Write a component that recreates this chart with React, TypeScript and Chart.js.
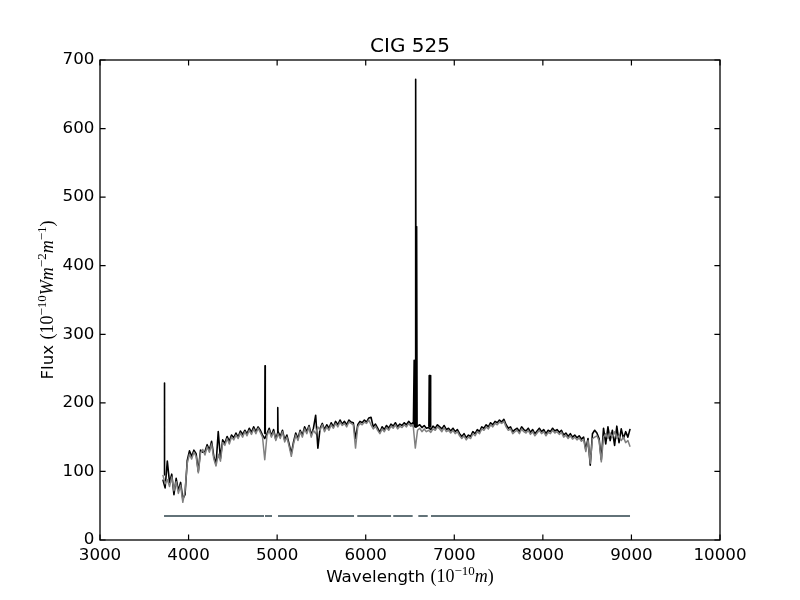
import { useEffect, useRef } from "react";
import { Chart, registerables } from "chart.js";

Chart.register(...registerables);

// both spectra share one wavelength grid (Angstrom)
const waveStart = 3710;
const waveStep = 25;

// synthetic model spectrum (grey), 10 values per 250 A
const modelFlux = [
  95, 82, 88, 78, 92, 72, 85, 68, 80, 55,
  72, 112, 125, 118, 128, 122, 98, 127, 132, 124,
  136, 128, 140, 118, 108, 125, 115, 142, 138, 148,
  140, 150, 146, 153, 148, 156, 150, 158, 152, 160,
  154, 162, 155, 163, 157, 150, 117, 152, 160, 150,
  158, 145, 155, 148, 158, 143, 150, 137, 122, 140,
  153, 145, 158, 150, 162, 155, 165, 150, 160, 155,
  165, 160, 168, 158, 165, 160, 168, 163, 170, 165,
  172, 167, 170, 165, 172, 170, 168, 134, 165, 170,
  168, 172, 170, 175, 168, 162, 166, 160, 155, 162,
  158, 164, 160, 166, 163, 168, 162, 166, 164, 168,
  165, 170, 166, 168, 134, 160, 163, 158, 162, 158,
  160, 157, 162, 160, 165, 162, 158, 164, 158, 160,
  156, 160, 155, 158, 152, 148, 152, 146, 150, 148,
  155, 152, 158, 155, 162, 160, 165, 162, 168, 165,
  170, 168, 172, 170, 173, 165, 160, 162, 155, 158,
  160, 155, 162, 158, 156, 160, 154, 158, 152, 156,
  160, 155, 158, 152, 157, 155, 160, 156, 158, 154,
  157, 150, 153, 148, 152, 147, 150, 146, 149, 144,
  147, 129, 145, 112, 148, 150, 152, 145, 114, 150,
  155, 148, 156, 150, 158, 148, 152, 145, 150, 142,
  145, 136,
];

// observed spectrum continuum (black)
const obsFlux = [
  88, 76, 115, 84, 96, 66, 90, 72, 84, 60,
  66, 116, 130, 122, 131, 126, 100, 131, 128, 129,
  139, 131, 144, 122, 110, 158, 119, 146, 141, 151,
  144, 153, 149, 156, 150, 159, 154, 160, 155, 163,
  157, 165, 158, 165, 160, 153, 148, 155, 163, 152,
  161, 147, 158, 151, 160, 146, 153, 140, 126, 143,
  156, 148, 160, 153, 165, 158, 167, 153, 163, 182,
  134, 163, 170, 161, 168, 163, 171, 165, 173, 168,
  175, 169, 173, 168, 175, 172, 171, 148, 168, 173,
  171, 175, 172, 178, 179, 165, 169, 163, 157, 165,
  161, 167, 163, 169, 166, 171, 165, 169, 167, 171,
  168, 173, 169, 171, 165, 166, 168, 164, 167, 163,
  164, 161, 166, 163, 168, 165, 162, 167, 161, 163,
  159, 163, 158, 161, 155, 151, 155, 149, 153, 151,
  158, 155, 161, 158, 165, 163, 168, 165, 171, 168,
  173, 171, 175, 172, 176, 168, 163, 165, 158, 161,
  163, 158, 165, 161, 159, 163, 157, 161, 155, 159,
  163, 158, 161, 155, 160, 158, 163, 159, 161, 157,
  160, 153, 156, 151, 155, 150, 153, 149, 152, 147,
  150, 132, 148, 109, 155, 160, 156, 148, 117, 163,
  140, 165, 145, 160, 138, 166, 142, 162, 148, 158,
  150, 162,
];

// emission lines of the observed spectrum
// [OII] 3727, Hb, [OIII] 5007, [NII] 6548, Ha, [NII] 6583, [SII] 6717, [SII] 6731
const lineCenter = [3727, 4863, 5007, 6547, 6564, 6575, 6717, 6731];
const linePeak = [229, 254, 193, 262, 672, 457, 240, 240];
const lineBase = [95, 155, 155, 165, 165, 165, 165, 165];
const lineHalfWidth = [3, 3, 3, 9, 5, 5, 4, 4];

// masked wavelength ranges
const maskStart = [3723, 4863, 5010, 5905, 6311, 6594, 6737];
const maskEnd = [4852, 4942, 5868, 6286, 6530, 6700, 8984];
const maskFlux = 35;

const xMin = 3000;
const xMax = 10000;
const xStep = 1000;
const yMin = 0;
const yMax = 700;
const yStep = 100;

const SANS = '"DejaVu Sans"';
const SERIF = '"Liberation Serif"';

type Run = { text: string; font: string; rise?: number };

const drawRuns = (ctx: CanvasRenderingContext2D, runs: Run[], cx: number, baseline: number) => {
  let total = 0;
  runs.forEach((r) => {
    ctx.font = r.font;
    total += ctx.measureText(r.text).width;
  });
  let x = cx - total / 2;
  runs.forEach((r) => {
    ctx.font = r.font;
    ctx.fillText(r.text, x, baseline - (r.rise || 0));
    x += ctx.measureText(r.text).width;
  });
};

const frame = {
  id: "frame",
  afterDraw(chart: any) {
    const ctx: CanvasRenderingContext2D = chart.ctx;
    const { left, right, top, bottom } = chart.chartArea;
    const xs = chart.scales.x;
    const ys = chart.scales.y;
    const tl = 5.6;
    ctx.save();
    ctx.strokeStyle = "#000";
    ctx.lineWidth = 1.2;
    ctx.beginPath();
    xs.ticks.forEach((t: any) => {
      const px = xs.getPixelForValue(t.value);
      ctx.moveTo(px, bottom);
      ctx.lineTo(px, bottom - tl);
      ctx.moveTo(px, top);
      ctx.lineTo(px, top + tl);
    });
    ys.ticks.forEach((t: any) => {
      const py = ys.getPixelForValue(t.value);
      ctx.moveTo(left, py);
      ctx.lineTo(left + tl, py);
      ctx.moveTo(right, py);
      ctx.lineTo(right - tl, py);
    });
    ctx.stroke();
    ctx.lineWidth = 1.3;
    ctx.strokeRect(left, top, right - left, bottom - top);

    ctx.fillStyle = "#000";
    ctx.textAlign = "left";
    ctx.textBaseline = "alphabetic";
    ctx.font = `20px ${SANS}`;
    const title = "CIG 525";
    const cx = (left + right) / 2;
    ctx.fillText(title, cx - ctx.measureText(title).width / 2, 52);

    const sans = `16.7px ${SANS}`;
    const serif = `18px ${SERIF}`;
    const ital = `italic 18px ${SERIF}`;
    const sup = `13px ${SERIF}`;
    drawRuns(
      ctx,
      [
        { text: "Wavelength ", font: sans },
        { text: "(10", font: serif },
        { text: "\u221210", font: sup, rise: 7 },
        { text: "m", font: ital },
        { text: ")", font: serif },
      ],
      cx,
      582
    );

    ctx.translate(53, (top + bottom) / 2);
    ctx.rotate(-Math.PI / 2);
    drawRuns(
      ctx,
      [
        { text: "Flux ", font: sans },
        { text: "(10", font: serif },
        { text: "\u221210", font: sup, rise: 7 },
        { text: "Wm", font: ital },
        { text: "\u22122", font: sup, rise: 7 },
        { text: "m", font: ital },
        { text: "\u22121", font: sup, rise: 7 },
        { text: ")", font: serif },
      ],
      0,
      0
    );
    ctx.restore();
  },
};

export default function App() {
  const canvasRef = useRef<HTMLCanvasElement>(null);

  useEffect(() => {
    const model = modelFlux.map((y, i) => ({ x: waveStart + i * waveStep, y }));
    const obs = obsFlux.map((y, i) => ({ x: waveStart + i * waveStep, y }));
    const lines: { x: number; y: number | null }[] = [];
    lineCenter.forEach((c, i) => {
      lines.push({ x: c - lineHalfWidth[i], y: lineBase[i] });
      lines.push({ x: c, y: linePeak[i] });
      lines.push({ x: c + lineHalfWidth[i], y: lineBase[i] });
      lines.push({ x: c + lineHalfWidth[i], y: null });
    });
    const mask: { x: number; y: number | null }[] = [];
    maskStart.forEach((s, i) => {
      mask.push({ x: s, y: maskFlux });
      mask.push({ x: maskEnd[i], y: maskFlux });
      mask.push({ x: maskEnd[i], y: null });
    });

    const common = {
      pointRadius: 0,
      tension: 0,
      fill: false,
      borderJoinStyle: "round" as const,
      spanGaps: false,
    };

    const font = { family: "DejaVu Sans", size: 16.7 };

    const chart = new Chart(canvasRef.current!, {
      type: "line",
      data: {
        datasets: [
          { ...common, label: "mask", data: mask as any, borderColor: "#627278", borderWidth: 2.1 },
          { ...common, label: "model", data: model, borderColor: "#808080", borderWidth: 1.5 },
          { ...common, label: "lines", data: lines as any, borderColor: "#000000", borderWidth: 1.6 },
          { ...common, label: "observed", data: obs, borderColor: "#000000", borderWidth: 1.6 },
        ],
      },
      options: {
        animation: false,
        responsive: false,
        devicePixelRatio: 1,
        events: [],
        layout: { padding: { top: 60, right: 80, left: 0, bottom: 0 } },
        plugins: {
          legend: { display: false },
          tooltip: { enabled: false },
        },
        scales: {
          x: {
            type: "linear",
            min: xMin,
            max: xMax,
            afterFit: (s: any) => {
              s.height = 60;
            },
            grid: { display: false, drawTicks: false },
            border: { display: false },
            ticks: {
              stepSize: xStep,
              autoSkip: false,
              maxRotation: 0,
              padding: 5.6,
              color: "#000",
              font,
              callback: (v: any) => String(v),
            },
          },
          y: {
            type: "linear",
            min: yMin,
            max: yMax,
            afterFit: (s: any) => {
              s.width = 100;
            },
            grid: { display: false, drawTicks: false },
            border: { display: false },
            ticks: {
              stepSize: yStep,
              autoSkip: false,
              padding: 5.6,
              color: "#000",
              font,
              callback: (v: any) => String(v),
            },
          },
        },
      },
      plugins: [frame],
    });

    return () => {
      chart.destroy();
    };
  }, []);

  return (
    <div style={{ position: "absolute", left: 0, top: 0, width: 800, height: 600, background: "#fff" }}>
      <canvas ref={canvasRef} width={800} height={600} />
    </div>
  );
}
